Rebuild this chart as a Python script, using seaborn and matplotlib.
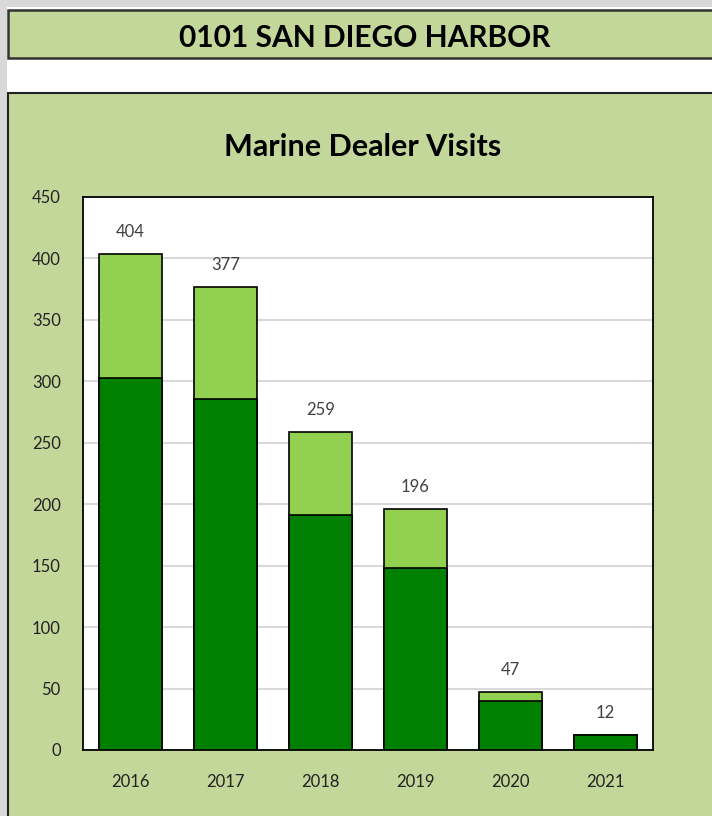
import pandas as pd
import matplotlib.pyplot as plt
import matplotlib.patches as mpatches
import seaborn as sns

# data
years = ['2016', '2017', '2018', '2019', '2020', '2021']
dark_part = [303, 286, 191, 148, 40, 12]
light_part = [101, 91, 68, 48, 7, 0]
totals = [d + l for d, l in zip(dark_part, light_part)]

df = pd.DataFrame({'year': years, 'dark': dark_part, 'total': totals})

panel_green = '#C4D79B'
dark_green = '#008000'
light_green = '#92D050'

sns.set_theme(style="white")
plt.rcParams['font.family'] = ['Lato', 'DejaVu Sans']

W, H = 712, 816
fig = plt.figure(figsize=(W / 100, H / 100), dpi=100)
fig.patch.set_facecolor('white')

# light gray strips along the left and top edge
fig.add_artist(mpatches.Rectangle((0, 0), 7 / W, 1, transform=fig.transFigure,
                                  facecolor='#D9D9D9', edgecolor='none', zorder=-2))
fig.add_artist(mpatches.Rectangle((0, 1 - 7 / H), 1, 7 / H, transform=fig.transFigure,
                                  facecolor='#D9D9D9', edgecolor='none', zorder=-2))

# header box
fig.add_artist(mpatches.Rectangle((8 / W, 1 - 58 / H), 1, 48 / H, transform=fig.transFigure,
                                  facecolor=panel_green, edgecolor='#333333', linewidth=1.8,
                                  zorder=-1))
fig.text(365 / W, 1 - 38 / H, '0101 SAN DIEGO HARBOR', ha='center', va='center',
         fontsize=21.5, fontweight='bold', color='black')

# chart panel
fig.add_artist(mpatches.Rectangle((8 / W, -0.05), 1, 1 - 93 / H + 0.05, transform=fig.transFigure,
                                  facecolor=panel_green, edgecolor='#222222', linewidth=1.5,
                                  zorder=-1))
fig.text(363 / W, 1 - 147 / H, 'Marine Dealer Visits', ha='center', va='center',
         fontsize=22, fontweight='bold', color='black')

ax = fig.add_axes([83 / W, 1 - 750 / H, 570 / W, 553 / H])
ax.set_zorder(5)
ax.set_facecolor('white')

sns.barplot(data=df, x='year', y='total', color=light_green, saturation=1,
            width=0.66, edgecolor='black', linewidth=1.2, ax=ax, zorder=3)
sns.barplot(data=df, x='year', y='dark', color=dark_green, saturation=1,
            width=0.66, edgecolor='black', linewidth=1.2, ax=ax, zorder=3)

for i, t in enumerate(totals):
    ax.annotate(str(t), (i, t), xytext=(0, 10), textcoords='offset points',
                ha='center', va='bottom', fontsize=12, color='#404040')

ax.set_ylim(0, 450)
ax.set_yticks(range(0, 451, 50))
ax.set_xlim(-0.5, 5.5)
ax.yaxis.grid(True, color='#D9D9D9', linewidth=1.5, zorder=0)
ax.set_axisbelow(True)
ax.set_xlabel('')
ax.set_ylabel('')
ax.tick_params(axis='y', length=0, pad=16, labelsize=12, labelcolor='#222222')
ax.tick_params(axis='x', length=0, pad=17, labelsize=12, labelcolor='#222222')
for s in ax.spines.values():
    s.set_visible(True)
    s.set_color('black')
    s.set_linewidth(1.3)

fig.savefig('out.png', dpi=100)
